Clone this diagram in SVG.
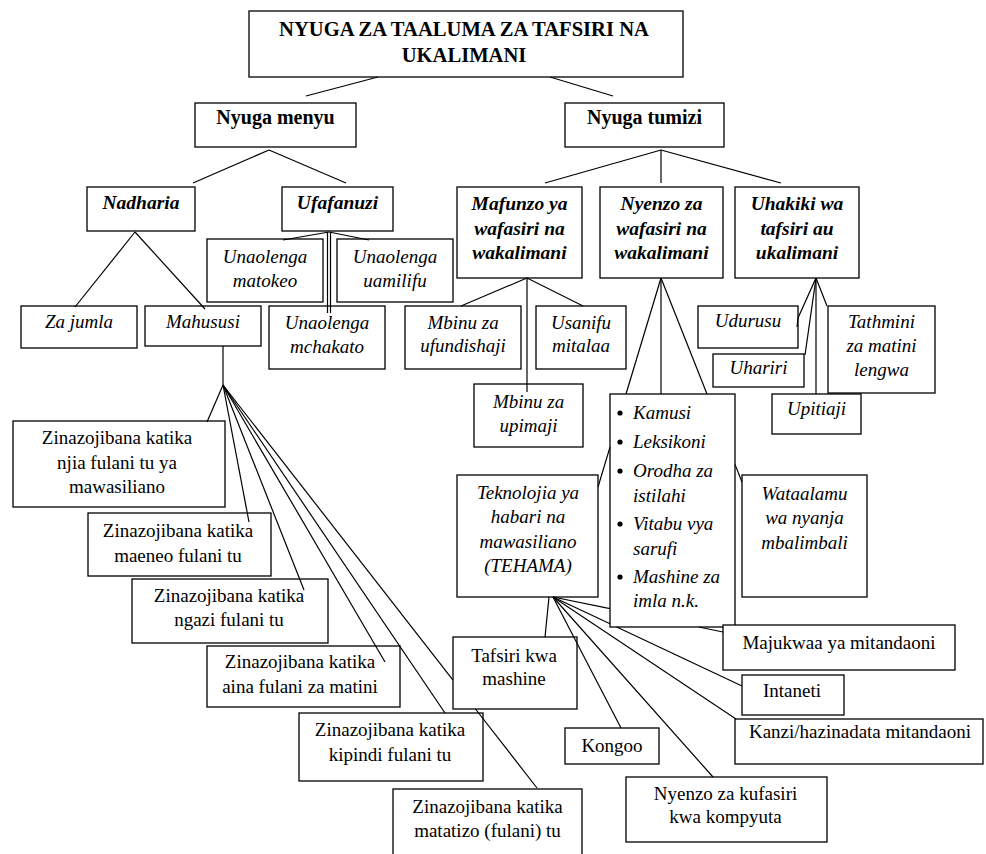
<svg xmlns="http://www.w3.org/2000/svg" width="986" height="854" viewBox="0 0 986 854">
<style>
.box{fill:#fff;stroke:#000;stroke-width:1.3}
text{font-family:"Liberation Serif","Times New Roman",serif;font-size:19px;text-anchor:middle;fill:#000}
.i{font-style:italic}
.b{font-weight:bold;font-size:20px}
.tt{font-size:20.6px}
.bi{font-weight:bold;font-style:italic;font-size:19.5px}
.l{text-anchor:start}
#connectors line,#connectors polyline{stroke:#000;stroke-width:1.2;fill:none}
</style>
<rect width="986" height="854" fill="#fff"/>
<g id="nodes">
<g id="title"><rect class="box" x="249" y="11" width="434" height="66"/><text class="b tt" x="464" y="36">NYUGA ZA TAALUMA ZA TAFSIRI NA</text><text class="b tt" x="464" y="62">UKALIMANI</text></g>
<g id="menyu"><rect class="box" x="195" y="103" width="161" height="44"/><text class="b" x="275.5" y="124">Nyuga menyu</text></g>
<g id="tumizi"><rect class="box" x="565" y="103" width="159" height="44"/><text class="b" x="644.5" y="124">Nyuga tumizi</text></g>
<g id="nadharia"><rect class="box" x="87" y="187" width="108" height="44"/><text class="bi" x="141" y="209">Nadharia</text></g>
<g id="ufafanuzi"><rect class="box" x="282" y="187" width="111" height="44"/><text class="bi" x="337.5" y="209">Ufafanuzi</text></g>
<g id="mafunzo"><rect class="box" x="457" y="187" width="125" height="91"/><text class="bi" x="519.5" y="210">Mafunzo ya</text><text class="bi" x="519.5" y="235">wafasiri na</text><text class="bi" x="519.5" y="259">wakalimani</text></g>
<g id="nyenzo"><rect class="box" x="600" y="187" width="123" height="91"/><text class="bi" x="661.5" y="210">Nyenzo za</text><text class="bi" x="661.5" y="235">wafasiri na</text><text class="bi" x="661.5" y="259">wakalimani</text></g>
<g id="uhakiki"><rect class="box" x="735" y="187" width="124" height="91"/><text class="bi" x="797" y="210">Uhakiki wa</text><text class="bi" x="797" y="235">tafsiri au</text><text class="bi" x="797" y="259">ukalimani</text></g>
<g id="zajumla"><rect class="box" x="21" y="306" width="116" height="42"/><text class="i" x="79" y="328">Za jumla</text></g>
<g id="mahususi"><rect class="box" x="145" y="306" width="116" height="40"/><text class="i" x="203" y="328">Mahususi</text></g>
<g id="matokeo"><rect class="box" x="207" y="239" width="116" height="63"/><text class="i" x="265" y="263">Unaolenga</text><text class="i" x="265" y="287">matokeo</text></g>
<g id="uamilifu"><rect class="box" x="337" y="239" width="116" height="63"/><text class="i" x="395" y="263">Unaolenga</text><text class="i" x="395" y="287">uamilifu</text></g>
<g id="mchakato"><rect class="box" x="269" y="306" width="116" height="63"/><text class="i" x="327" y="329">Unaolenga</text><text class="i" x="327" y="353">mchakato</text></g>
<g id="ufundishaji"><rect class="box" x="405" y="306" width="116" height="63"/><text class="i" x="463" y="329">Mbinu za</text><text class="i" x="463" y="352">ufundishaji</text></g>
<g id="usanifu"><rect class="box" x="536" y="306" width="90" height="63"/><text class="i" x="581" y="329">Usanifu</text><text class="i" x="581" y="352">mitalaa</text></g>
<g id="upimaji"><rect class="box" x="474" y="384" width="109" height="63"/><text class="i" x="528.5" y="408">Mbinu za</text><text class="i" x="528.5" y="432">upimaji</text></g>
<g id="udurusu"><rect class="box" x="698" y="306" width="100" height="42"/><text class="i" x="748" y="327">Udurusu</text></g>
<g id="uhariri"><rect class="box" x="713" y="354" width="91" height="33"/><text class="i" x="758.5" y="374">Uhariri</text></g>
<g id="tathmini"><rect class="box" x="828" y="306" width="107" height="87"/><text class="i" x="881.5" y="328">Tathmini</text><text class="i" x="881.5" y="352">za matini</text><text class="i" x="881.5" y="376">lengwa</text></g>
<g id="upitiaji"><rect class="box" x="772" y="394" width="89" height="40"/><text class="i" x="816.5" y="415">Upitiaji</text></g>
<g id="kamusi"><rect class="box" x="610" y="394" width="125" height="233"/>
<circle cx="620" cy="413" r="2.6"/><text class="i l" x="633" y="419">Kamusi</text>
<circle cx="620" cy="442" r="2.6"/><text class="i l" x="633" y="448">Leksikoni</text>
<circle cx="620" cy="471" r="2.6"/><text class="i l" x="633" y="477">Orodha za</text><text class="i l" x="633" y="502">istilahi</text>
<circle cx="620" cy="524" r="2.6"/><text class="i l" x="633" y="530">Vitabu vya</text><text class="i l" x="633" y="555">sarufi</text>
<circle cx="620" cy="577" r="2.6"/><text class="i l" x="633" y="583">Mashine za</text><text class="i l" x="633" y="607">imla n.k.</text></g>
<g id="tehama"><rect class="box" x="457" y="475" width="141" height="122"/><text class="i" x="528" y="499">Teknolojia ya</text><text class="i" x="528" y="523">habari na</text><text class="i" x="528" y="548">mawasiliano</text><text class="i" x="528" y="572">(TEHAMA)</text></g>
<g id="wataalamu"><rect class="box" x="742" y="475" width="125" height="122"/><text class="i" x="804.5" y="500">Wataalamu</text><text class="i" x="804.5" y="524">wa nyanja</text><text class="i" x="804.5" y="549">mbalimbali</text></g>
<g id="z1"><rect class="box" x="13" y="421" width="212" height="86"/><text x="117" y="444">Zinazojibana katika</text><text x="117" y="469">njia fulani tu ya</text><text x="117" y="493">mawasiliano</text></g>
<g id="z2"><rect class="box" x="88" y="513" width="183" height="63"/><text x="178" y="537">Zinazojibana katika</text><text x="178" y="562">maeneo fulani tu</text></g>
<g id="z3"><rect class="box" x="132" y="579" width="196" height="64"/><text x="229" y="602">Zinazojibana katika</text><text x="229" y="626">ngazi fulani tu</text></g>
<g id="z4"><rect class="box" x="207" y="646" width="193" height="61"/><text x="300" y="668">Zinazojibana katika</text><text x="300" y="693">aina fulani za matini</text></g>
<g id="z5"><rect class="box" x="299" y="713" width="184" height="68"/><text x="390" y="736">Zinazojibana katika</text><text x="390" y="761">kipindi fulani tu</text></g>
<g id="z6"><rect class="box" x="393" y="789" width="189" height="75"/><text x="487.5" y="813">Zinazojibana katika</text><text x="487.5" y="837">matatizo (fulani) tu</text></g>
<g id="tafsiri"><rect class="box" x="453" y="637" width="124" height="72"/><text x="514" y="662">Tafsiri kwa</text><text x="514" y="685">mashine</text></g>
<g id="kongoo"><rect class="box" x="565" y="728" width="94" height="36"/><text x="612" y="752">Kongoo</text></g>
<g id="kufasiri"><rect class="box" x="626" y="777" width="201" height="65"/><text x="725.5" y="800">Nyenzo za kufasiri</text><text x="725.5" y="823">kwa kompyuta</text></g>
<g id="majukwaa"><rect class="box" x="723" y="625" width="232" height="45"/><text x="839" y="649">Majukwaa ya mitandaoni</text></g>
<g id="intaneti"><rect class="box" x="742" y="675" width="102" height="40"/><text x="792" y="697">Intaneti</text></g>
<g id="kanzi"><rect class="box" x="735" y="719" width="248" height="45"/><text x="860" y="738">Kanzi/hazinadata mitandaoni</text></g>
</g>
<g id="connectors">
<line x1="378" y1="77" x2="306" y2="96"/>
<line x1="550" y1="77" x2="613" y2="96"/>
<line x1="269" y1="150" x2="193" y2="183"/>
<line x1="269" y1="150" x2="346" y2="183"/>
<line x1="661" y1="150" x2="545" y2="183"/>
<line x1="661" y1="150" x2="661" y2="183"/>
<line x1="661" y1="150" x2="781" y2="183"/>
<line x1="135" y1="232" x2="75" y2="307"/>
<line x1="135" y1="232" x2="205" y2="309"/>
<line x1="329" y1="232" x2="283" y2="240"/>
<line x1="329" y1="232" x2="369" y2="240"/>
<line x1="327.5" y1="232" x2="327.5" y2="313"/>
<line x1="330.5" y1="232" x2="330.5" y2="313"/>
<line x1="527" y1="278" x2="461" y2="306"/>
<line x1="527" y1="278" x2="583" y2="306"/>
<line x1="527" y1="278" x2="527" y2="392"/>
<line x1="661" y1="278" x2="626" y2="394"/>
<line x1="610" y1="447.2" x2="598" y2="487"/>
<line x1="661" y1="278" x2="661" y2="394"/>
<line x1="661" y1="278" x2="707" y2="394"/>
<line x1="735" y1="464.4" x2="742" y2="482"/>
<polyline points="816,278 798,318 797,327"/>
<line x1="816" y1="278" x2="805" y2="355"/>
<line x1="816" y1="278" x2="816" y2="394"/>
<line x1="816" y1="278" x2="827" y2="306"/>
<line x1="223" y1="346" x2="223" y2="385"/>
<line x1="223" y1="385" x2="207" y2="422"/>
<line x1="223" y1="385" x2="249" y2="522"/>
<line x1="223" y1="385" x2="304" y2="590"/>
<line x1="223" y1="385" x2="385" y2="662"/>
<line x1="223" y1="385" x2="445" y2="713"/>
<line x1="223" y1="385" x2="453" y2="680.2"/>
<line x1="475.5" y1="709" x2="537" y2="788"/>
<line x1="549" y1="597" x2="545" y2="637"/>
<line x1="553" y1="597" x2="621" y2="728"/>
<line x1="553" y1="597" x2="713" y2="777"/>
<line x1="553" y1="597" x2="736" y2="719"/>
<line x1="553" y1="597" x2="610" y2="623.8"/>
<line x1="616.7" y1="627" x2="742" y2="686"/>
<line x1="553" y1="597" x2="610" y2="608.7"/>
<line x1="698.7" y1="627" x2="723" y2="632"/>
</g>
</svg>
